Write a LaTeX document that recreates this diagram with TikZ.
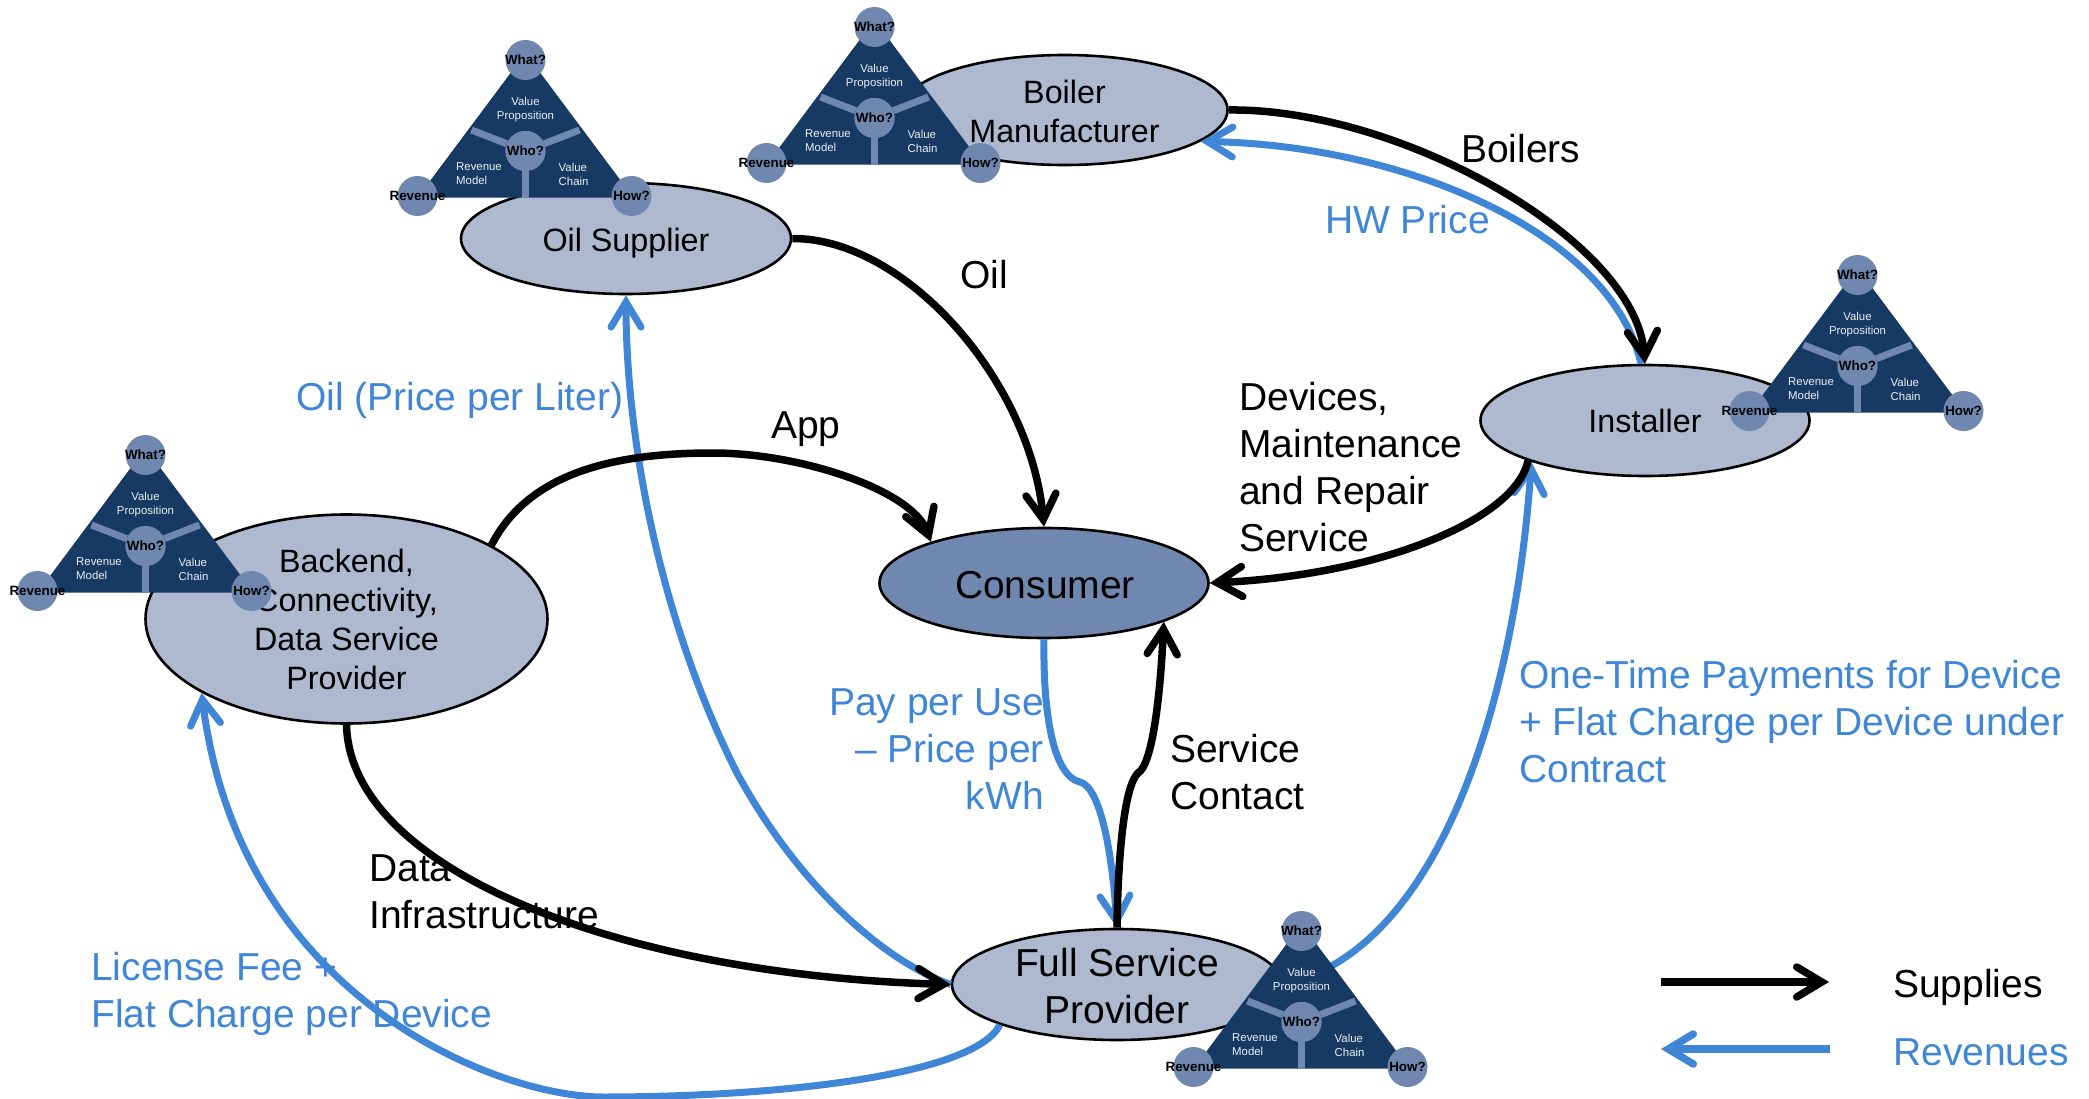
\documentclass[tikz,border=0pt]{standalone}
\usepackage{fontspec}
\setmainfont{Liberation Sans}
\usetikzlibrary{shapes.geometric,arrows.meta}
\definecolor{ellight}{HTML}{AEB9CF}
\definecolor{elmid}{HTML}{7088B0}
\definecolor{navy}{HTML}{163A63}
\definecolor{revblue}{HTML}{3F86D6}
\tikzset{
  actor/.style={ellipse,draw=black,line width=2.6pt,fill=ellight,inner sep=0pt},
  actlabel/.style={align=center,inner sep=0pt,text=black},
  smalltxt/.style={font=\fontsize{32.3}{39}\selectfont},
  bigtxt/.style={font=\fontsize{39}{47}\selectfont},
  edgetxt/.style={bigtxt,inner sep=0pt,align=left,anchor=west},
  blacktxt/.style={edgetxt,text=black},
  bluetxt/.style={edgetxt,text=revblue},
  barb/.tip={Straight Barb[length=25pt,width=30pt,line cap=round,line join=miter]},
  supplyline/.style={draw=black,line width=7.5pt,-{barb}},
  revline/.style={draw=revblue,line width=7pt,-{barb}},
  bmcdot/.style={circle,fill=elmid,minimum size=40pt,inner sep=0pt,text=black,font=\fontsize{13.4}{15}\selectfont\bfseries},
  bmcspoke/.style={draw=elmid,line width=7pt},
  bmctxt/.style={text=white!92!navy,inner sep=0pt,font=\fontsize{11.4}{14}\selectfont},
}
\newcommand{\dottxt}[1]{\makebox[0pt]{#1}}
\newcommand{\bmcunit}[3]{%
  \begin{scope}[shift={(#2+0.5,#3+1)}]
    \fill[navy] (0,-98) -- (108,46.7) -- (-108,46.7) -- cycle;
    \node[bmctxt,align=center] (#1vp) at (0,-41) {Value\\Proposition};
    \node[bmctxt,align=left,anchor=west] (#1rm) at (-69.5,23) {Revenue\\Model};
    \node[bmctxt,align=left,anchor=west] (#1vc) at (33,23) {Value\\Chain};
    \node[bmcdot] (#1who) at (0,0) {};
    \draw[bmcspoke] (#1who) -- (0,46.7);
    \draw[bmcspoke] (#1who) -- (-54,-21);
    \draw[bmcspoke] (#1who) -- (54,-21);
    \node[bmcdot] (#1whoc) at (0,0) {\dottxt{Who?}};
    \node[bmcdot] (#1what) at (0,-91) {\dottxt{What?}};
    \node[bmcdot] (#1rev) at (-108,45) {\dottxt{Revenue}};
    \node[bmcdot] (#1how) at (106,45) {\dottxt{How?}};
  \end{scope}}
\begin{document}
\begin{tikzpicture}[x=1pt,y=-1pt]
\useasboundingbox (0,0) rectangle (2089,1099);
% actors
\node[actor,minimum width=330pt,minimum height=111pt,label={[actlabel,smalltxt,yshift=-5pt]center:Oil Supplier}] (oil) at (626,238.5) {};
\node[actor,minimum width=326pt,minimum height=110pt,label={[actlabel,smalltxt,yshift=-1.5pt]center:Boiler\\Manufacturer}] (boiler) at (1064.5,110) {};
\node[actor,minimum width=329pt,minimum height=111pt,label={[actlabel,smalltxt]center:Installer}] (installer) at (1645,420.5) {};
\node[actor,fill=elmid,minimum width=329pt,minimum height=110pt,label={[actlabel,bigtxt,yshift=-2.5pt,xshift=1pt]center:Consumer}] (consumer) at (1044,583) {};
\node[actor,minimum width=402pt,minimum height=209pt,label={[actlabel,smalltxt]center:Backend,\\Connectivity,\\Data Service\\Provider}] (backend) at (346.5,619) {};
\node[actor,minimum width=330pt,minimum height=111pt,label={[actlabel,bigtxt,yshift=-1.5pt]center:Full Service\\Provider}] (fsp) at (1117,984.5) {};
% revenues
\draw[revline] (fsp.west) .. controls (880,960) and (795,880) .. (737,773) .. controls (660,620) and (626,440) .. (oil.south);
\draw[revline] (fsp.199) .. controls (975,1075) and (780,1097) .. (603,1097) .. controls (500,1097) and (240,1000) .. (backend.207.5);
\draw[revline] (installer.94) .. controls (1610,230) and (1400,145) .. (boiler.-13);
\draw[revline] (consumer.south) .. controls (1043,700) and (1050,775) .. (1080,782) .. controls (1100,787) and (1112,850) .. (fsp.north);
\draw[revline] (fsp.east) .. controls (1440,950) and (1515,700) .. (installer.200);
% supplies
\draw[supplyline] (oil.east) .. controls (905,238) and (1030,380) .. (consumer.north);
\draw[supplyline] (backend.27) .. controls (530,470) and (620,453) .. (713,453) .. controls (800,453) and (912,490) .. (consumer.160);
\draw[supplyline] (backend.south) .. controls (350,870) and (620,975) .. (fsp.west);
\draw[supplyline] (boiler.east) .. controls (1400,108) and (1635,240) .. (installer.north);
\draw[supplyline] (installer.199) .. controls (1515,520) and (1380,575) .. (consumer.east);
\draw[supplyline] (fsp.north) .. controls (1118,850) and (1125,785) .. (1138,773) .. controls (1152,765) and (1160,700) .. (consumer.-18.6);
% business model triangles
\bmcunit{o}{525}{150}
\bmcunit{b}{874}{117}
\bmcunit{i}{1857}{365}
\bmcunit{k}{145}{545}
\bmcunit{f}{1301}{1021}
% labels
\node[bluetxt] (lblprice) at (296,400) {Oil (Price per Liter)};
\node[blacktxt] (lblapp) at (771,429) {App};
\node[blacktxt] (lbloil) at (960,275) {Oil};
\node[blacktxt] (lblboil) at (1461,149) {Boilers};
\node[bluetxt] (lblhw) at (1325,220) {HW Price};
\node[blacktxt] (lbldev) at (1239,467) {Devices,\\Maintenance\\and Repair\\Service};
\node[bluetxt,align=right,anchor=east] (lblpay) at (1044,749) {Pay per Use\\– Price per\\kWh};
\node[blacktxt] (lblsvc) at (1170,772) {Service\\Contact};
\node[bluetxt] (lblone) at (1519,722) {One-Time Payments for Device\\+ Flat Charge per Device under\\Contract};
\node[blacktxt] (lbldata) at (369,892) {Data\\Infrastructure};
\node[bluetxt] (lbllic) at (91,994) {License Fee +\\Flat Charge per Device};
% legend
\coordinate (lega) at (1661,982);
\coordinate (legb) at (1829,982);
\coordinate (legc) at (1830,1049);
\coordinate (legd) at (1661,1049);
\draw[supplyline] (lega) -- (legb);
\draw[revline,line width=7.5pt] (legc) -- (legd);
\node[blacktxt] (legs) at (1893,987) {Supplies};
\node[bluetxt] (legr) at (1893,1052) {Revenues};
\end{tikzpicture}
\end{document}
